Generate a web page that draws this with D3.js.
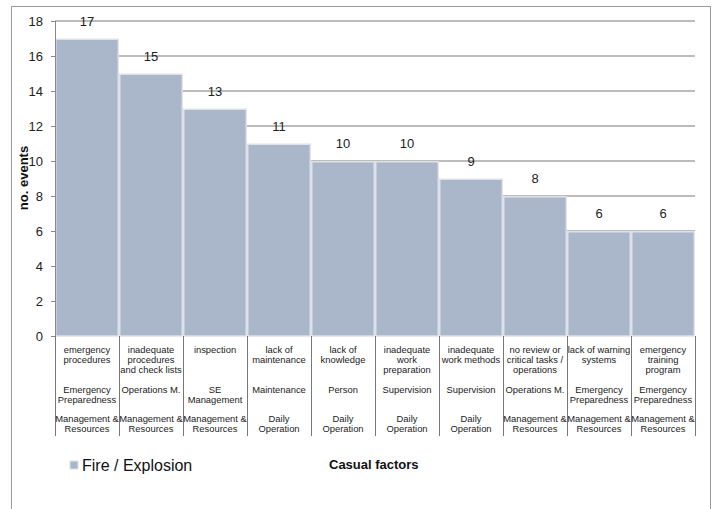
<!DOCTYPE html>
<html>
<head>
<meta charset="utf-8">
<script src="https://cdn.jsdelivr.net/npm/d3@7/dist/d3.min.js"></script>
<style>
  body { margin: 0; background: #fff; }
  text { font-family: "Liberation Sans", Arial, sans-serif; }
</style>
</head>
<body>
<script>
// chart data
var factors = [
  "emergency|procedures",
  "inadequate|procedures|and check lists",
  "inspection",
  "lack of|maintenance",
  "lack of|knowledge",
  "inadequate|work|preparation",
  "inadequate|work methods",
  "no review or|critical tasks /|operations",
  "lack of warning|systems",
  "emergency|training|program"
];
var groups = [
  "Emergency|Preparedness", "Operations M.", "SE|Management", "Maintenance", "Person",
  "Supervision", "Supervision", "Operations M.", "Emergency|Preparedness", "Emergency|Preparedness"
];
var areas = [
  "Management &|Resources", "Management &|Resources", "Management &|Resources",
  "Daily|Operation", "Daily|Operation", "Daily|Operation", "Daily|Operation",
  "Management &|Resources", "Management &|Resources", "Management &|Resources"
];
var events = [17, 15, 13, 11, 10, 10, 9, 8, 6, 6];
var yTicks = [0, 2, 4, 6, 8, 10, 12, 14, 16, 18];
var seriesName = "Fire / Explosion";
var xTitle = "Casual factors";
var yTitle = "no. events";

// plot area (window.top is read-only, so use other names)
var W = 716, H = 509;
var plotL = 55, plotR = 695, plotT = 21, plotB = 336;
var barColor = "#aab6ca";

var svg = d3.select("body")
  .append("svg")
    .attr("width", W)
    .attr("height", H);

// outer frame
svg.append("rect")
  .attr("x", 11.5).attr("y", 6.5)
  .attr("width", 699).attr("height", 520)
  .attr("fill", "none")
  .attr("stroke", "#9a9a9a");

var x = d3.scaleBand()
  .domain(d3.range(events.length))
  .range([plotL, plotR])
  .padding(0);

var y = d3.scaleLinear()
  .domain([0, 18])
  .range([plotB, plotT]);

// gridlines
svg.append("g")
  .selectAll("line")
  .data(yTicks.filter(function(d) { return d > 0; }))
  .enter()
  .append("line")
    .attr("x1", plotL).attr("x2", plotR)
    .attr("y1", function(d) { return y(d); })
    .attr("y2", function(d) { return y(d); })
    .attr("stroke", "#a6a6a6")
    .attr("stroke-width", 1.5);

// bars
svg.selectAll(".bar")
  .data(events)
  .enter()
  .append("rect")
    .attr("class", "bar")
    .attr("x", function(d, i) { return x(i) + 0.75; })
    .attr("width", x.bandwidth() - 1.5)
    .attr("y", function(d) { return y(d) + 0.75; })
    .attr("height", function(d) { return plotB - y(d) - 0.75; })
    .attr("fill", barColor)
    .attr("stroke", "#dde1e8")
    .attr("stroke-width", 1.5);

// value labels
svg.selectAll(".val")
  .data(events)
  .enter()
  .append("text")
    .attr("x", function(d, i) { return x(i) + x.bandwidth() / 2; })
    .attr("y", function(d) { return y(d) - 13; })
    .attr("text-anchor", "middle")
    .attr("font-size", 13)
    .attr("fill", "#222")
    .text(function(d) { return d; });

// y axis
var yAxis = svg.append("g")
  .attr("transform", "translate(" + plotL + ",0)")
  .call(d3.axisLeft(y).tickValues(yTicks).tickSize(4).tickPadding(8));
yAxis.select(".domain").attr("stroke", "#888").attr("d", "M0.5," + plotT + "V" + plotB);
yAxis.selectAll(".tick line").attr("stroke", "#888");
yAxis.selectAll(".tick text")
  .attr("font-size", 13)
  .attr("font-family", "Liberation Sans, Arial, sans-serif")
  .attr("fill", "#222");

// category table dividers
svg.append("g")
  .selectAll("line")
  .data(d3.range(events.length + 1))
  .enter()
  .append("line")
    .attr("x1", function(i) { return Math.round(plotL + i * x.bandwidth()) + 0.5; })
    .attr("x2", function(i) { return Math.round(plotL + i * x.bandwidth()) + 0.5; })
    .attr("y1", plotB).attr("y2", 436)
    .attr("stroke", "#777");

// table rows
function row(labels, yFirst) {
  labels.forEach(function(lbl, i) {
    var t = svg.append("text")
      .attr("text-anchor", "middle")
      .attr("font-size", 9.4)
      .attr("fill", "#222");
    lbl.split("|").forEach(function(line, k) {
      t.append("tspan")
        .attr("x", x(i) + x.bandwidth() / 2)
        .attr("y", yFirst + k * 10)
        .text(line);
    });
  });
}
row(factors, 353);
row(groups, 393);
row(areas, 422);

// y title
svg.append("text")
  .attr("transform", "translate(28,178) rotate(-90)")
  .attr("text-anchor", "middle")
  .attr("font-size", 13)
  .attr("font-weight", "bold")
  .attr("fill", "#111")
  .text(yTitle);

// x title
svg.append("text")
  .attr("x", 329).attr("y", 469)
  .attr("font-size", 13)
  .attr("font-weight", "bold")
  .attr("fill", "#111")
  .text(xTitle);

// legend
svg.append("rect")
  .attr("x", 70).attr("y", 461)
  .attr("width", 8).attr("height", 8)
  .attr("fill", barColor)
  .attr("stroke", "#dde1e8");
svg.append("text")
  .attr("x", 82).attr("y", 471)
  .attr("font-size", 16)
  .attr("fill", "#111")
  .text(seriesName);
</script>
</body>
</html>
